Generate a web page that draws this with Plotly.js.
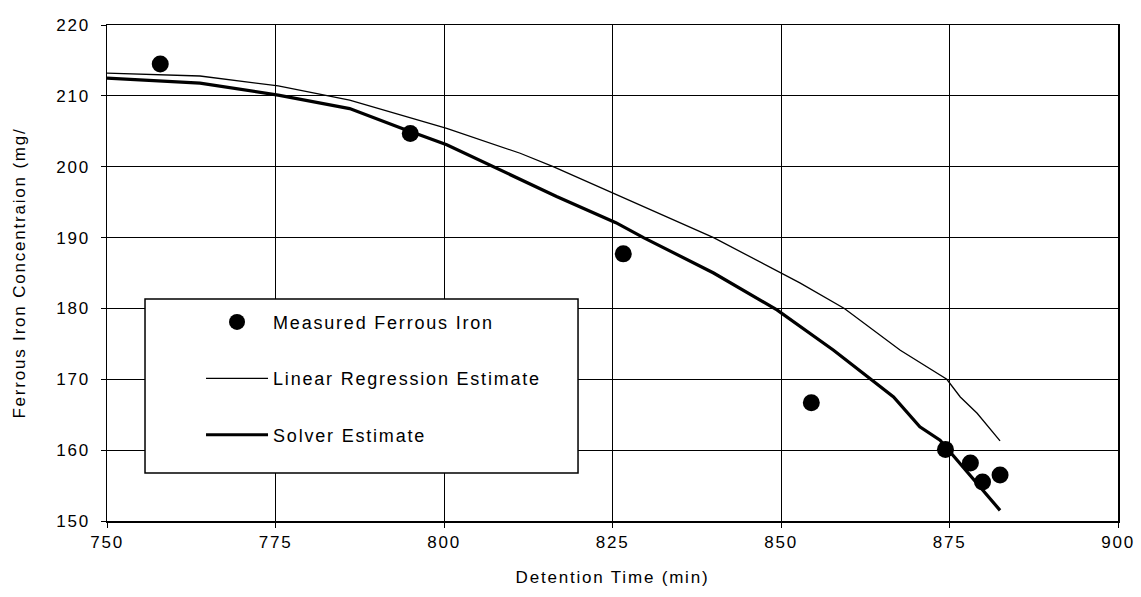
<!DOCTYPE html>
<html>
<head>
<meta charset="utf-8">
<script src="https://cdn.plot.ly/plotly-3.0.1.min.js"></script>
<style>
html,body{margin:0;padding:0;background:#fff;}
#chart{width:1141px;height:597px;}
svg text{letter-spacing:1.8px;}
</style>
</head>
<body>
<div id="chart"></div>
<script>
// Measured ferrous iron
var measuredTime = [757.9, 795.0, 826.6, 854.5, 874.4, 878.1, 879.9, 882.5];
var measuredConc = [214.5, 204.7, 187.7, 166.7, 160.1, 158.2, 155.5, 156.5];

// Linear regression estimate
var linregTime = [750, 763.8, 775.4, 786, 800.4, 811.3, 816.2, 825.5, 840, 852.8, 859.4, 867.7, 874.6, 876.6, 879.1, 882.5];
var linregConc = [213.2, 212.8, 211.4, 209.4, 205.4, 201.9, 200.0, 196.1, 190.0, 183.6, 180.0, 174.1, 170.0, 167.5, 165.2, 161.3];

// Solver estimate
var solverTime = [750, 763.8, 775.4, 786, 793.5, 800.4, 816.7, 825.5, 829.6, 840, 849.4, 857.8, 866.7, 870.6, 873.6, 882.5];
var solverConc = [212.5, 211.8, 210.1, 208.2, 205.5, 203.1, 195.8, 192.1, 190.0, 185.0, 179.8, 174.1, 167.5, 163.3, 161.4, 151.5];

var seriesNames = ["Measured Ferrous Iron", "Linear Regression Estimate", "Solver Estimate"];

var FONT = "Liberation Sans, Arial, sans-serif";

var traces = [
  {
    x: measuredTime, y: measuredConc, name: seriesNames[0], type: "scatter", mode: "markers",
    marker: {color: "#000", size: 17, symbol: "circle"}, legendgroup: "a"
  },
  {
    x: linregTime, y: linregConc, name: seriesNames[1], type: "scatter", mode: "lines",
    line: {color: "#000", width: 1.3}, legendgroup: "b"
  },
  {
    x: solverTime, y: solverConc, name: seriesNames[2], type: "scatter", mode: "lines",
    line: {color: "#000", width: 3.2}, legendgroup: "c"
  }
];

var layout = {
  width: 1141, height: 597,
  margin: {l: 107, r: 23, t: 25, b: 76},
  paper_bgcolor: "#fff", plot_bgcolor: "#fff",
  font: {family: FONT, color: "#000", size: 17},
  showlegend: true,
  legend: {
    x: 0.093, y: 0.438, xanchor: "left", yanchor: "top",
    bgcolor: "rgba(0,0,0,0)", borderwidth: 0,
    itemwidth: 62, tracegroupgap: 30,
    font: {family: FONT, size: 18, color: "#000"}
  },
  xaxis: {
    range: [750, 900], dtick: 25, tick0: 750,
    showgrid: true, gridcolor: "#000", gridwidth: 1,
    showline: true, linecolor: "#000", linewidth: 1.5, mirror: true,
    ticks: "outside", ticklen: 5, tickcolor: "#000",
    zeroline: false,
    tickfont: {family: FONT, size: 17, color: "#000"},
    title: {text: "Detention Time (min)", font: {family: FONT, size: 17, color: "#000"}, standoff: 20}
  },
  yaxis: {
    range: [150, 220], dtick: 10, tick0: 150,
    showgrid: true, gridcolor: "#000", gridwidth: 1,
    showline: true, linecolor: "#000", linewidth: 1.5, mirror: true,
    ticks: "outside", ticklen: 5, tickcolor: "#000",
    zeroline: false, ticklabelstandoff: 7,
    tickfont: {family: FONT, size: 17, color: "#000"},
    title: {text: "Ferrous Iron Concentraion (mg/", font: {family: FONT, size: 17, color: "#000"}, standoff: 26}
  },
  shapes: [
    {type: "rect", xref: "paper", yref: "paper", x0: 0.0376, x1: 0.4659, y0: 0.0968, y1: 0.4476,
     fillcolor: "#fff", line: {color: "#000", width: 1.5}, layer: "above"}
  ]
};

Plotly.newPlot("chart", traces, layout, {displayModeBar: false, staticPlot: true});
</script>
</body>
</html>
